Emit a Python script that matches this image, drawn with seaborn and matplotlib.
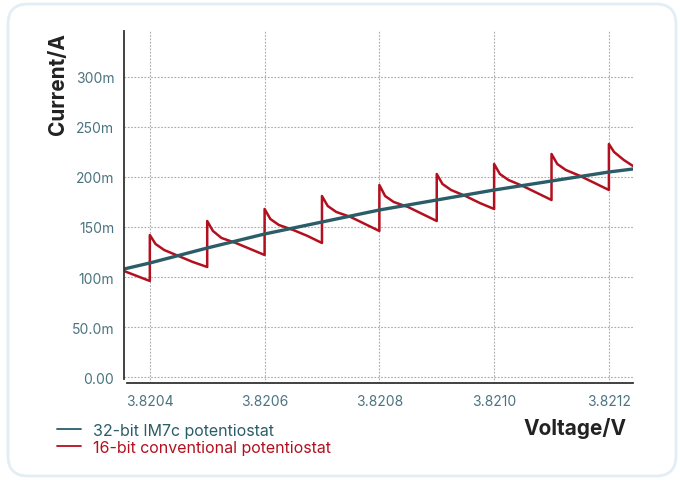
import numpy as np
import pandas as pd
import matplotlib
matplotlib.use("Agg")
import matplotlib.pyplot as plt
import matplotlib.ticker as mticker
from matplotlib.patches import FancyBboxPatch
from matplotlib.transforms import IdentityTransform
import seaborn as sns

# 32-bit IM7c potentiostat (voltage in V, current in mA)
im7_voltage = [3.820355, 3.82040, 3.82050, 3.82060, 3.82070, 3.82080,
               3.82090, 3.82100, 3.82110, 3.82120, 3.821242]
im7_current = [108, 114, 129, 143, 155, 167, 177, 187, 196, 205, 208]

# 16-bit conventional potentiostat: sawtooth, jumps every 0.1 mV
conv_voltage = [
    3.820355, 3.82040,
    3.82040, 3.82041, 3.820425, 3.82045, 3.820475, 3.82050,
    3.82050, 3.82051, 3.820525, 3.82055, 3.820575, 3.82060,
    3.82060, 3.82061, 3.820625, 3.82065, 3.820675, 3.82070,
    3.82070, 3.82071, 3.820725, 3.82075, 3.820775, 3.82080,
    3.82080, 3.82081, 3.820825, 3.82085, 3.820875, 3.82090,
    3.82090, 3.82091, 3.820925, 3.82095, 3.820975, 3.82100,
    3.82100, 3.82101, 3.821025, 3.82105, 3.821075, 3.82110,
    3.82110, 3.82111, 3.821125, 3.82115, 3.821175, 3.82120,
    3.82120, 3.821209, 3.821226, 3.821242,
]
conv_current = [
    106, 96,
    142, 133, 127, 121, 115, 110,
    156, 146, 139, 134, 128, 122,
    168, 158, 152, 147, 141, 134,
    181, 171, 165, 160, 153, 146,
    192, 181, 175, 170, 163, 156,
    203, 193, 187, 181, 174, 168,
    213, 203, 197, 191, 184, 177,
    223, 213, 207, 201, 194, 187,
    233, 225, 217, 211,
]

y_ticks = [0, 50, 100, 150, 200, 250, 300]
y_tick_labels = ["0.00", "50.0m", "100m", "150m", "200m", "250m", "300m"]
x_ticks = [3.8204, 3.8206, 3.8208, 3.8210, 3.8212]
x_tick_labels = ["3.8204", "3.8206", "3.8208", "3.8210", "3.8212"]

teal = "#2b5d68"
red = "#b3101f"
tick_color = "#4a7380"

sns.set_style("white")
plt.rcParams['font.family'] = ['Inter', 'DejaVu Sans']

fig = plt.figure(figsize=(6.8, 4.81), dpi=100)
W, H = 680, 481
ax = fig.add_axes([124 / W, 1 - 384 / H, (633 - 124) / W, (384 - 32) / H])

conv_df = pd.DataFrame({"V": conv_voltage, "I": conv_current})
im7_df = pd.DataFrame({"V": im7_voltage, "I": im7_current})

sns.lineplot(data=conv_df, x="V", y="I", estimator=None, sort=False,
             color=red, linewidth=1.8, ax=ax, label="16-bit conventional potentiostat")
sns.lineplot(data=im7_df, x="V", y="I", estimator=None, sort=False,
             color=teal, linewidth=2.4, ax=ax, label="32-bit IM7c potentiostat")

ax.set_xlim(3.820355, 3.821242)
ax.set_ylim(-6, 346)

ax.set_yticks(y_ticks)
ax.set_yticklabels(y_tick_labels)
ax.set_xticks(x_ticks)
ax.set_xticklabels(x_tick_labels)
ax.yaxis.set_minor_locator(mticker.MultipleLocator(10))
ax.xaxis.set_minor_locator(mticker.MultipleLocator(0.00005))

ax.grid(True, which="major", linestyle=(0, (1.5, 1.5)), color="#a8a8a8", linewidth=0.8)
ax.set_axisbelow(True)

for side in ["top", "right"]:
    ax.spines[side].set_visible(False)
for side in ["left", "bottom"]:
    ax.spines[side].set_color("#333333")
    ax.spines[side].set_linewidth(1.3)
ax.spines["left"].set_bounds(-2, 346)
ax.spines["bottom"].set_bounds(3.82036, 3.821242)

ax.tick_params(axis="both", which="major", length=4, width=1, color="#333333",
               labelcolor=tick_color, labelsize=10, direction="out")
ax.tick_params(axis="both", which="minor", length=2.5, width=0.8, color="#333333",
               direction="out")
ax.tick_params(axis="x", which="major", pad=4)
ax.tick_params(axis="y", which="major", pad=3)

ax.set_xlabel("")
ax.set_ylabel("")
fig.text(58 / W, 1 - 84 / H, "Current/A", rotation=90, ha="center", va="center",
         fontsize=15, fontweight="bold", color="#222222")
fig.text(627 / W, 1 - 429 / H, "Voltage/V", ha="right", va="center",
         fontsize=15, fontweight="bold", color="#222222")

handles, labels = ax.get_legend_handles_labels()
leg = ax.legend(handles[::-1], labels[::-1], loc="upper left",
                bbox_to_anchor=(57 / W, 1 - 424 / H), bbox_transform=fig.transFigure,
                frameon=False, fontsize=11.5, handlelength=1.5, handletextpad=0.75,
                labelspacing=0.12, borderpad=0, borderaxespad=0, labelcolor="linecolor")
for line in leg.get_lines():
    line.set_linewidth(1.3)

frame = FancyBboxPatch((8, 4), 668, 472, boxstyle="round,pad=0,rounding_size=20",
                       transform=IdentityTransform(), facecolor="none",
                       edgecolor="#e2edf4", linewidth=2)
fig.patches.append(frame)

fig.savefig("out.png", dpi=100)
